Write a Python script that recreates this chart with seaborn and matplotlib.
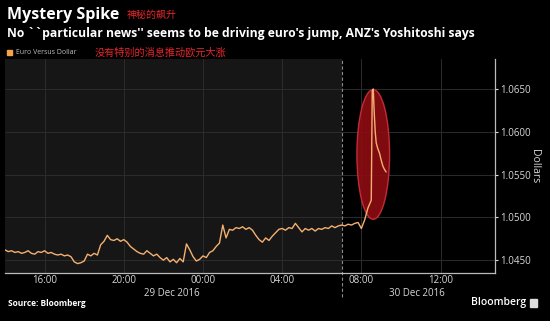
import matplotlib
matplotlib.use("Agg")
import matplotlib.pyplot as plt
import matplotlib.dates as mdates
from matplotlib.patches import Ellipse, Rectangle
import numpy as np
import pandas as pd
import seaborn as sns

# ---------------- data ----------------
start_time = "2016-12-29 14:00"
step = "10min"
base_values = [
    1.0462, 1.0460, 1.0461, 1.0459, 1.0460, 1.0458, 1.0459, 1.0461, 1.0458, 1.0457, 1.0460, 1.0459,  # 14-16
    1.0461, 1.0458, 1.0459, 1.0457, 1.0456, 1.0457, 1.0455, 1.0456, 1.0454, 1.0448, 1.0446, 1.0447,  # 16-18
    1.0449, 1.0457, 1.0455, 1.0458, 1.0456, 1.0468, 1.0472, 1.0479, 1.0474, 1.0473, 1.0475, 1.0472,  # 18-20
    1.0474, 1.0471, 1.0466, 1.0463, 1.0460, 1.0458, 1.0457, 1.0461, 1.0458, 1.0455, 1.0457, 1.0453,  # 20-22
    1.0450, 1.0453, 1.0448, 1.0451, 1.0447, 1.0452, 1.0448, 1.0469, 1.0462, 1.0454, 1.0449, 1.0451,  # 22-24
    1.0455, 1.0453, 1.0459, 1.0461, 1.0466, 1.0470, 1.0491, 1.0476, 1.0486, 1.0485, 1.0488, 1.0487,  # 00-02
    1.0489, 1.0486, 1.0488, 1.0485, 1.0479, 1.0474, 1.0471, 1.0476, 1.0473, 1.0478, 1.0482, 1.0486,  # 02-04
    1.0487, 1.0485, 1.0488, 1.0487, 1.0493, 1.0488, 1.0483, 1.0487, 1.0485, 1.0487, 1.0484, 1.0487,  # 04-06
    1.0486, 1.0488, 1.0487, 1.0490, 1.0488, 1.0490, 1.0491, 1.0490, 1.0492, 1.0491, 1.0493, 1.0494,  # 06-08
    1.0487, 1.0497, 1.0511, 1.0520,                                                                  # 08-08:30
]
spike_times = ["2016-12-30 08:33", "2016-12-30 08:36", "2016-12-30 08:39", "2016-12-30 08:42",
               "2016-12-30 08:45", "2016-12-30 08:50", "2016-12-30 08:55", "2016-12-30 09:00",
               "2016-12-30 09:05", "2016-12-30 09:10", "2016-12-30 09:15"]
spike_values = [1.0648, 1.0650, 1.0622, 1.0600, 1.0587, 1.0580, 1.0575, 1.0567, 1.0560, 1.0556, 1.0553]

y_ticks = [1.0450, 1.0500, 1.0550, 1.0600, 1.0650]
y_tick_labels = ["1.0450", "1.0500", "1.0550", "1.0600", "1.0650"]

title = "Mystery Spike"
title_cn = "神秘的飙升"
subtitle = "No ``particular news'' seems to be driving euro's jump, ANZ's Yoshitoshi says"
legend_label = "Euro Versus Dollar"
legend_cn = "没有特别的消息推动欧元大涨"
y_label = "Dollars"
date_labels = ["29 Dec 2016", "30 Dec 2016"]
source = "Source: Bloomberg"
brand = "Bloomberg"

x_start = pd.Timestamp("2016-12-29 14:00")
x_end = pd.Timestamp("2016-12-30 14:45")
session_break = pd.Timestamp("2016-12-30 07:00")

# ---------------- frame ----------------
times = list(pd.date_range(start_time, periods=len(base_values), freq=step)) + list(pd.to_datetime(spike_times))
df = pd.DataFrame({"time": times, "value": base_values + spike_values})

sns.set_theme(style="dark")
plt.rcParams["font.family"] = ["Open Sans", "Noto Sans CJK SC", "DejaVu Sans"]

fig = plt.figure(figsize=(5.5, 3.21), dpi=100, facecolor="black")
W, H = 550, 321
ax = fig.add_axes([5 / W, 1 - 273 / H, 490 / W, 214 / H])
ax.set_facecolor("black")

ax.axvspan(x_start, session_break, color="#161616", zorder=0, lw=0)

# spike annotation ellipse computed from data
spike_df = df[df["time"] >= pd.Timestamp("2016-12-30 08:10")]
tmax = df.loc[df["value"].idxmax(), "time"]
ymin_s, ymax_s = spike_df["value"].min(), spike_df["value"].max()
cx = mdates.date2num(tmax)
cy = (ymin_s + ymax_s) / 2
ell = Ellipse((cx, cy), width=1.65 / 24, height=(ymax_s - ymin_s) * 0.99,
              facecolor="#8e0d14", edgecolor="#d0303a", lw=1.0, alpha=0.9, zorder=2)
ax.add_patch(ell)

sns.lineplot(data=df, x="time", y="value", ax=ax, color="#f4b070", lw=1.0, zorder=3)

ax.set_xlim(x_start, x_end)
ax.set_ylim(1.0435, 1.0685)

ax.yaxis.tick_right()
ax.yaxis.set_label_position("right")
ax.set_yticks(y_ticks)
ax.set_yticklabels(y_tick_labels)
ax.set_ylabel(y_label, rotation=-90, color="#d8d8d8", fontsize=7.5, labelpad=7)
ax.set_xlabel("")

ax.xaxis.set_major_locator(mdates.HourLocator(byhour=[0, 4, 8, 12, 16, 20]))
ax.xaxis.set_major_formatter(mdates.DateFormatter("%H:%M"))
ax.xaxis.set_minor_locator(mdates.HourLocator(byhour=[2, 6, 10, 14, 18, 22]))

ax.tick_params(axis="x", which="major", colors="#d8d8d8", labelsize=7, length=0, pad=1.5)
ax.tick_params(axis="x", which="minor", color="#777777", length=2, width=0.6, direction="in")
ax.tick_params(axis="y", colors="#d8d8d8", labelsize=7, length=2, width=0.8, pad=1.5, direction="out")
ax.tick_params(axis="y", color="#dddddd")

ax.grid(True, which="major", color="#2c2c2c", lw=0.7)
for s in ["top", "left"]:
    ax.spines[s].set_visible(False)
for s in ["right", "bottom"]:
    ax.spines[s].set_visible(True)
    ax.spines[s].set_color("#bbbbbb")
    ax.spines[s].set_linewidth(0.9)

ax.axvline(session_break, ymin=-0.112, ymax=1, color="#8a8a8a", lw=0.8, ls=(0, (3, 2)),
           clip_on=False, zorder=1)

# ---------------- texts ----------------
def fx(px):
    return px / W

def fy(py):
    return 1 - py / H

fig.text(fx(7), fy(15), title, color="white", fontsize=11.5, fontweight="bold", va="center", ha="left")
fig.text(fx(127), fy(15), title_cn, color="#e8262c", fontsize=7.2, va="center", ha="left",
         family=["Noto Sans CJK SC", "DejaVu Sans"])
fig.text(fx(7), fy(34), subtitle, color="white", fontsize=8.7, fontweight="bold", va="center", ha="left")
fig.patches.append(Rectangle((fx(7), fy(55)), 5 / W, 5 / H, transform=fig.transFigure,
                             color="#f5a34a", figure=fig))
fig.text(fx(16), fy(52.5), legend_label, color="#bdbdbd", fontsize=5, va="center", ha="left")
fig.text(fx(95), fy(52.5), legend_cn, color="#e8262c", fontsize=7.3, va="center", ha="left",
         family=["Noto Sans CJK SC", "DejaVu Sans"])

fig.text(fx(172), fy(293), date_labels[0], color="#d8d8d8", fontsize=7, va="center", ha="center")
fig.text(fx(417), fy(293), date_labels[1], color="#d8d8d8", fontsize=7, va="center", ha="center")

fig.text(fx(8), fy(304), source, color="white", fontsize=6, fontweight="bold", va="center", ha="left")
fig.text(fx(526), fy(303), brand, color="white", fontsize=7.5, fontweight="semibold", va="center", ha="right")
fig.patches.append(Rectangle((fx(530), fy(307)), 7 / W, 8 / H, transform=fig.transFigure,
                             color="#dddddd", figure=fig))

fig.savefig("out.png", dpi=100, facecolor="black")
